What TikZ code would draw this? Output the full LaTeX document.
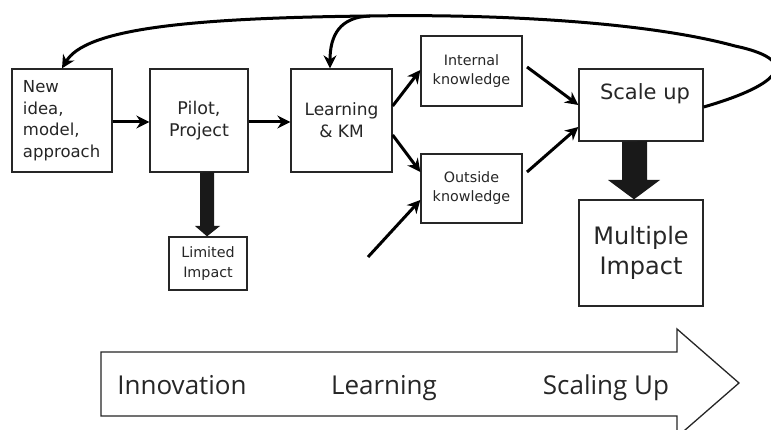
\documentclass[tikz,border=0pt]{standalone}
\usepackage{fontspec}
\setmainfont{DejaVu Sans}
\newfontfamily\barfont{Open Sans}
\usetikzlibrary{arrows.meta}
\tikzset{
  box/.style={draw=black!85, line width=1.3pt, inner sep=0pt, align=center, text=black!85},
  tip/.style={-{Stealth[length=13pt,width=13pt]}},
  conn/.style={line width=3pt, tip},
  loopline/.style={line width=3pt},
  bigarrow/.style={fill=black!90, draw=none},
  bartext/.style={font=\barfont\fontsize{26}{30}\selectfont, text=black!85, anchor=base}
}
\begin{document}
\begin{tikzpicture}[x=1pt,y=-1pt]
\useasboundingbox (0,0) rectangle (771,430);
\fill[white] (0,0) rectangle (771,430);
% boxes
\node[box, minimum width=100pt, minimum height=103pt, text width=78pt, align=left,
      font=\fontsize{16.5}{21.5}\selectfont] (idea) at (62,120.5) {New\\idea,\\model,\\approach};
\node[box, minimum width=98pt, minimum height=103pt, font=\fontsize{17.5}{22}\selectfont] (pilot) at (199,120.5) {Pilot,\\Project};
\node[box, minimum width=101pt, minimum height=103pt, font=\fontsize{17}{22}\selectfont] (learn) at (341.5,120.5) {Learning\\\& KM};
\node[box, minimum width=78pt, minimum height=53pt, font=\fontsize{14.3}{20}\selectfont] (limited) at (208,263.5) {Limited\\Impact};
\node[box, minimum width=101pt, minimum height=70pt, font=\fontsize{14.3}{19}\selectfont] (internal) at (471.5,71) {Internal\\knowledge};
\node[box, minimum width=101pt, minimum height=69pt, font=\fontsize{14.3}{19}\selectfont] (outside) at (471.5,188.5) {Outside\\knowledge};
\node[box, minimum width=124pt, minimum height=72pt] (scale) at (641,105) {};
\node[font=\fontsize{21}{24}\selectfont, text=black!85, anchor=base] (scaletxt) at (645,100) {Scale up};
\node[box, minimum width=124pt, minimum height=106pt, font=\fontsize{24}{30}\selectfont] (multi) at (641,253) {Multiple\\Impact};
% connectors
\draw[conn] (idea.east |- 0,122) -- (pilot.west |- 0,122);
\draw[conn] (pilot.east |- 0,122) -- (learn.west |- 0,122);
\draw[conn] (learn.east |- 0,106) -- (internal.west |- 0,70);
\draw[conn] (learn.east |- 0,135) -- (outside.west |- 0,172);
\coordinate (ifrom) at (527,67);
\coordinate (ofrom) at (527,172);
\draw[conn] (ifrom) -- (scale.west |- 0,105);
\draw[conn] (ofrom) -- (scale.west |- 0,127);
\coordinate (ext) at (368,257);
\draw[conn] (ext) -- (outside.west |- 0,200);
% feedback loop
\coordinate (top) at (370,16);
\draw[loopline] (scale.east |- 0,107) .. controls (770,88) and (810,62) .. (735,46)
  .. controls (640,20) and (480,14) .. (top);
\draw[loopline, tip] (top) .. controls (180,18) and (85,30) .. (idea.north -| 62,0);
\draw[loopline, tip] (top) .. controls (340,17) and (330,35) .. (learn.north -| 330,0);
% thick arrows
\fill[bigarrow] (pilot.south -| 200,0) -- (214,172) -- (214,226) -- (220,226) -- (limited.north -| 207,0) -- (195,226) -- (200,226) -- cycle;
\fill[bigarrow] (scale.south -| 622,0) -- (647,141) -- (647,180) -- (660,180) -- (multi.north -| 634,0) -- (608,180) -- (622,180) -- cycle;
% bottom arrow
\draw[line width=1.3pt, draw=black!85, fill=white] (101,352) -- (677,352) -- (677,329) -- (739,383) -- (677,437) -- (677,416) -- (101,416) -- cycle;
\node[bartext] (inno) at (182,394) {Innovation};
\node[bartext] (learnbar) at (384,394) {Learning};
\node[bartext] (scalebar) at (606,394) {Scaling Up};
\end{tikzpicture}
\end{document}
